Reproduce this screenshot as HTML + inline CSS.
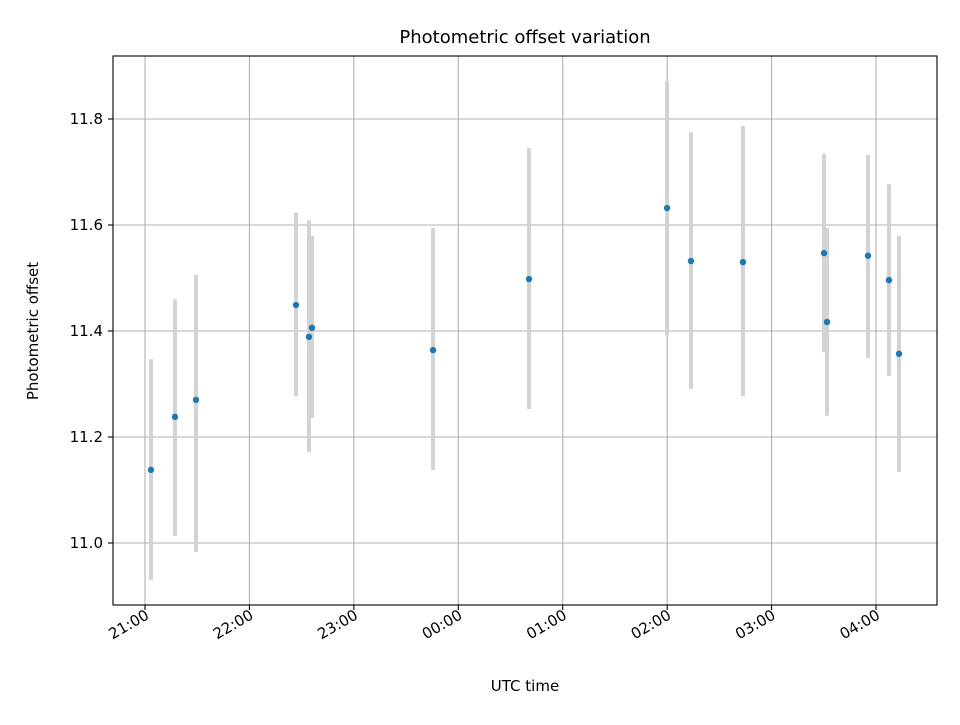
<!DOCTYPE html>
<html><head><meta charset="utf-8"><style>
body{margin:0;background:#fff;}
svg text{font-family:"DejaVu Sans","Liberation Sans",sans-serif;fill:#000;}
</style></head><body>
<svg id="chart" width="960" height="720" xmlns="http://www.w3.org/2000/svg">
<rect width="960" height="720" fill="#fff"/>
<g id="grid"></g>
<g id="bars"></g>
<g id="pts"></g>
<rect x="113" y="56" width="824" height="549" fill="none" stroke="#000" stroke-width="1.1"/>
<g id="ticks"></g>
<text x="525" y="43" font-size="18" text-anchor="middle">Photometric offset variation</text>
<text x="525" y="691" font-size="15" text-anchor="middle">UTC time</text>
<text transform="translate(38,331) rotate(-90)" font-size="15" text-anchor="middle">Photometric offset</text>
</svg>
<script>
const hours=[0.057,0.287,0.488,1.446,1.570,1.599,2.758,3.677,4.999,5.228,5.726,6.502,6.531,6.923,7.124,7.220];
const values=[11.138,11.238,11.270,11.449,11.389,11.406,11.364,11.498,11.632,11.532,11.530,11.547,11.417,11.542,11.496,11.357];
const errHigh=[11.347,11.460,11.506,11.623,11.609,11.579,11.594,11.745,11.872,11.775,11.787,11.734,11.594,11.732,11.677,11.579];
const errLow=[10.930,11.013,10.983,11.277,11.172,11.236,11.138,11.253,11.392,11.291,11.277,11.360,11.240,11.349,11.315,11.134];
const xTickHours=[0,1,2,3,4,5,6,7];
const xTickLabels=["21:00","22:00","23:00","00:00","01:00","02:00","03:00","04:00"];
const yTicks=[11.0,11.2,11.4,11.6,11.8];
const yTickLabels=["11.0","11.2","11.4","11.6","11.8"];
const NS="http://www.w3.org/2000/svg";
const X=h=>145+h*104.43;
const Y=v=>543-(v-11)*530;
function mk(tag,attrs,parent){const e=document.createElementNS(NS,tag);for(const k in attrs)e.setAttribute(k,attrs[k]);parent.appendChild(e);return e;}
const grid=document.getElementById('grid'),ticks=document.getElementById('ticks'),bars=document.getElementById('bars'),pts=document.getElementById('pts');
xTickHours.forEach((h,i)=>{
  const x=X(h);
  const g=mk('line',{x1:x,x2:x,y1:56,y2:605,stroke:'#b0b0b0','stroke-width':1.1},grid);
  
  
  const t=mk('line',{x1:x,x2:x,y1:605,y2:610,stroke:'#000','stroke-width':1.1},ticks);
  
  
  const l=mk('text',{transform:`translate(${x+5},${618}) rotate(-30)`,'font-size':15,'text-anchor':'end'},ticks);
  l.textContent=xTickLabels[i];
  
  
});
yTicks.forEach((v,i)=>{
  const y=Y(v);
  const g=mk('line',{x1:113,x2:937,y1:y,y2:y,stroke:'#b0b0b0','stroke-width':1.1},grid);
  
  
  const t=mk('line',{x1:108,x2:113,y1:y,y2:y,stroke:'#000','stroke-width':1.1},ticks);
  
  
  const l=mk('text',{x:103,y:y+5,'font-size':15,'text-anchor':'end'},ticks);
  l.textContent=yTickLabels[i];
  
  
});
hours.forEach((h,i)=>{
  const x=X(h);
  const b=mk('line',{x1:x,x2:x,y1:Y(errHigh[i]),y2:Y(errLow[i]),stroke:'#d3d3d3','stroke-width':4},bars);
  
  
  const c=mk('circle',{cx:x,cy:Y(values[i]),r:3.2,fill:'#1f77b4'},pts);
  
  
});
</script>
</body></html>
